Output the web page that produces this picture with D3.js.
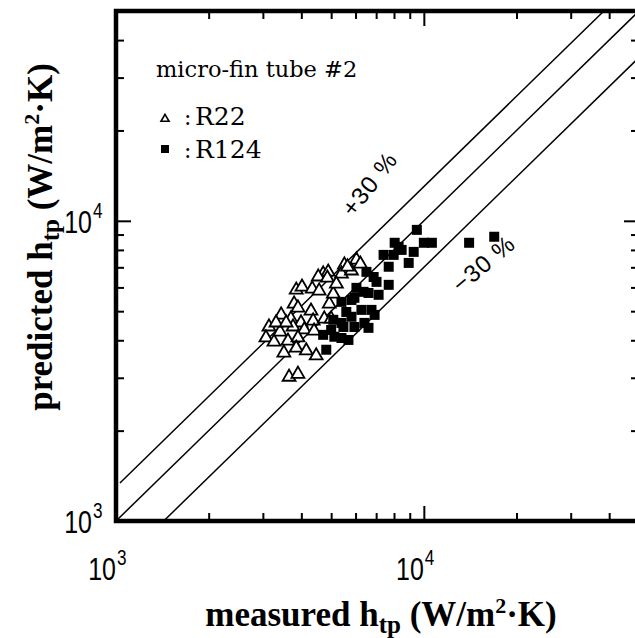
<!DOCTYPE html>
<html>
<head>
<meta charset="utf-8">
<script src="https://cdn.jsdelivr.net/npm/d3@7"></script>
<style>
  body { margin: 0; background: #fff; }
  svg { display: block; }
</style>
</head>
<body>
<svg id="chart" width="635" height="638"></svg>
<script>
// R22 points (measured, predicted) in W/m2K
const r22_measured = [4710, 4890, 4540, 4860, 5520, 6040, 6220, 5400, 5820, 3850,
  4020, 4340, 3790, 3900, 4300, 4930, 5080, 3440, 3700, 3990,
  4370, 4750, 3140, 3410, 3760, 4090, 3070, 3260, 3620, 3900,
  4400, 3510, 3850, 4150, 4470, 3650, 3900, 5000, 5200, 3310,
  3570, 4570, 5650];
const r22_predicted = [6710, 6810, 6560, 6500, 7190, 7470, 7240, 6710, 6870, 5930,
  6070, 5980, 5330, 5170, 5050, 5330, 5750, 4900, 4750, 4610,
  4680, 4750, 4470, 4300, 4470, 4370, 4110, 3980, 4010, 4110,
  4330, 3660, 3800, 3720, 3580, 3040, 3110, 4750, 6210, 4610,
  4610, 5890, 7080];

// R124 points
const r124_measured = [9490, 8040, 8470, 10000, 10620, 9270, 7400, 7690, 8930, 7020,
  7690, 6040, 6610, 7130, 5950, 6270, 6760, 5820, 6410, 5480,
  5950, 6610, 5120, 5690, 8280, 7980, 6510, 6870, 6370, 5820,
  5400, 5600, 5080, 5400, 4710, 5000, 5400, 4820, 6920, 14030,
  16930];
const r124_predicted = [9330, 8450, 8000, 8450, 8450, 7880, 7700, 7030, 7240, 6260,
  6120, 5980, 5750, 5670, 5540, 5050, 5050, 4790, 4570, 4430,
  4430, 4400, 4110, 4010, 8190, 7700, 6760, 6500, 5800, 5450,
  5370, 4970, 4680, 4570, 4170, 4330, 4070, 3720, 4860, 8450,
  8850];

// error bands: predicted = ratio * measured
const band_ratios = [1.3, 1.0, 0.7];

const axis_domain = [1e3, 5e4];
const major_ticks = [1e3, 1e4];
const minor_ticks = [2e3, 3e3, 4e3, 5e3, 6e3, 7e3, 8e3, 9e3, 2e4, 3e4, 4e4];
const tick_exponents = ['3', '4'];

const plot = { left: 116, right: 639, top: 11, bottom: 521 };

const svg = d3.select('#chart');

const x = d3.scaleLog().domain(axis_domain).range([plot.left, plot.right]);
const y = d3.scaleLog().domain(axis_domain).range([plot.bottom, plot.top]);

const serif = '"Liberation Serif", "Times New Roman", serif';
const wideSerif = '"DejaVu Serif", serif';
const sans = '"Liberation Sans", Arial, sans-serif';

// clip for the diagonal lines
svg.append('clipPath').attr('id', 'plotclip')
  .append('rect')
  .attr('x', plot.left).attr('y', plot.top)
  .attr('width', plot.right - plot.left).attr('height', plot.bottom - plot.top);

// diagonal lines
const line = d3.line().x(d => x(d[0])).y(d => y(d[1]));
const band_g = svg.append('g').attr('clip-path', 'url(#plotclip)');
band_ratios.forEach(r => {
  const x0 = Math.max(axis_domain[0] * (r > 1 ? 1.03 : 1), axis_domain[0] / r);
  const x1 = Math.min(axis_domain[1], axis_domain[1] / r);
  band_g.append('path')
    .attr('d', line([[x0, x0 * r], [x1, x1 * r]]))
    .attr('fill', 'none')
    .attr('stroke', '#000')
    .attr('stroke-width', 1.5);
});

// R22 triangles
const tri = d3.symbol().type(d3.symbolTriangle).size(72);
svg.append('g').selectAll('path')
  .data(d3.zip(r22_measured, r22_predicted))
  .enter()
  .append('path')
  .attr('d', tri)
  .attr('transform', d => `translate(${x(d[0])},${y(d[1]) + 1})`)
  .attr('fill', '#fff')
  .attr('stroke', '#000')
  .attr('stroke-width', 1.8);

// R124 squares
const sq = d3.symbol().type(d3.symbolSquare).size(100);
svg.append('g').selectAll('path')
  .data(d3.zip(r124_measured, r124_predicted))
  .enter()
  .append('path')
  .attr('d', sq)
  .attr('transform', d => `translate(${x(d[0])},${y(d[1])})`)
  .attr('fill', '#000');

// ticks on all four sides, pointing inward
function addTicks(axisFn, values, size, transform) {
  svg.append('g')
    .attr('transform', transform)
    .call(axisFn.tickValues(values).tickSize(size).tickFormat(''))
    .call(g => g.select('.domain').remove())
    .call(g => g.selectAll('line').attr('stroke', '#000').attr('stroke-width', 2));
}
addTicks(d3.axisBottom(x), minor_ticks, -8, `translate(0,${plot.bottom})`);
addTicks(d3.axisBottom(x), major_ticks, -15, `translate(0,${plot.bottom})`);
addTicks(d3.axisTop(x), minor_ticks, -8, `translate(0,${plot.top})`);
addTicks(d3.axisTop(x), major_ticks, -15, `translate(0,${plot.top})`);
addTicks(d3.axisLeft(y), minor_ticks, -8, `translate(${plot.left},0)`);
addTicks(d3.axisLeft(y), major_ticks, -15, `translate(${plot.left},0)`);
addTicks(d3.axisRight(y), minor_ticks, -8, `translate(${plot.right},0)`);
addTicks(d3.axisRight(y), major_ticks, -15, `translate(${plot.right},0)`);

// frame
svg.append('rect')
  .attr('x', plot.left).attr('y', plot.top)
  .attr('width', plot.right - plot.left).attr('height', plot.bottom - plot.top)
  .attr('fill', 'none')
  .attr('stroke', '#000')
  .attr('stroke-width', 4.5);

// tick labels 10^n, narrow tall digits
function powerLabel(px, py, exp) {
  svg.append('text')
    .attr('transform', `translate(${px},${py}) scale(0.78,1)`)
    .attr('font-family', sans)
    .attr('font-size', 32)
    .attr('text-anchor', 'end')
    .attr('fill', '#000')
    .text('10');
  svg.append('text')
    .attr('transform', `translate(${px + 1},${py - 15}) scale(0.78,1)`)
    .attr('font-family', sans)
    .attr('font-size', 22)
    .attr('fill', '#000')
    .text(exp);
}
major_ticks.forEach((v, i) => {
  powerLabel(x(v), 580, tick_exponents[i]);
  powerLabel(plot.left - 24, y(v) + 12, tick_exponents[i]);
});

// axis titles
function axisTitle(sel, word) {
  sel.attr('text-anchor', 'middle')
    .attr('font-family', serif)
    .attr('font-weight', 'bold')
    .attr('font-size', 35);
  sel.append('tspan').text(word + ' h');
  sel.append('tspan').attr('dy', 7).attr('font-size', 25).text('tp');
  sel.append('tspan').attr('dy', -7).text(' (W/m');
  sel.append('tspan').attr('dy', -13).attr('font-size', 22).text('2');
  sel.append('tspan').attr('dy', 13).text('·K)');
}
axisTitle(svg.append('text').attr('x', 381).attr('y', 626), 'measured');
axisTitle(svg.append('text').attr('transform', 'translate(52,237) rotate(-90)'), 'predicted');

// legend
svg.append('text')
  .attr('x', 156).attr('y', 77)
  .attr('font-family', wideSerif)
  .attr('font-size', 22.5)
  .text('micro-fin tube #2');

svg.append('path')
  .attr('d', d3.symbol().type(d3.symbolTriangle).size(28)())
  .attr('transform', 'translate(165,119)')
  .attr('fill', '#fff').attr('stroke', '#000').attr('stroke-width', 1.6);
svg.append('text')
  .attr('x', 184).attr('y', 125)
  .attr('font-family', wideSerif).attr('font-size', 22)
  .text(':');
svg.append('text')
  .attr('x', 195).attr('y', 125)
  .attr('font-family', wideSerif).attr('font-size', 25)
  .text('R22');

svg.append('rect')
  .attr('x', 161).attr('y', 145).attr('width', 8).attr('height', 8)
  .attr('fill', '#000');
svg.append('text')
  .attr('x', 184).attr('y', 158)
  .attr('font-family', wideSerif).attr('font-size', 22)
  .text(':');
svg.append('text')
  .attr('x', 195).attr('y', 158)
  .attr('font-family', wideSerif).attr('font-size', 25)
  .text('R124');

// band labels
svg.append('text')
  .attr('transform', 'translate(376,189) rotate(-52)')
  .attr('text-anchor', 'middle')
  .attr('font-family', sans)
  .attr('font-size', 24)
  .attr('letter-spacing', 1)
  .text('+30 %');

svg.append('text')
  .attr('transform', 'translate(489,270) rotate(-40)')
  .attr('text-anchor', 'middle')
  .attr('font-family', sans)
  .attr('font-size', 24)
  .attr('letter-spacing', 1)
  .text('\u221230 %');
</script>
</body>
</html>
